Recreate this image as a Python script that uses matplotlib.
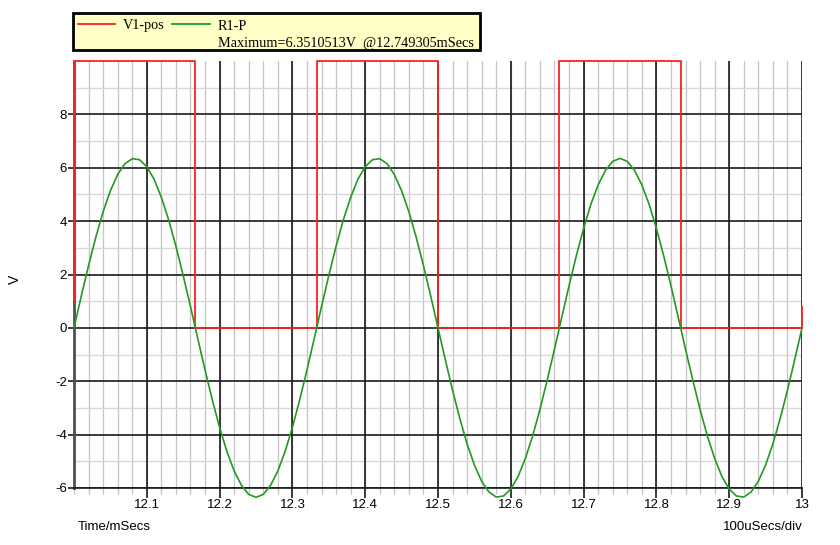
import matplotlib.pyplot as plt
from matplotlib.patches import Rectangle
from matplotlib.lines import Line2D

# V1-pos square wave (corner points)
v1_time = [12.0, 12.0, 12.1667, 12.1667, 12.3333, 12.3333, 12.5, 12.5,
           12.6667, 12.6667, 12.8333, 12.8333, 13.0, 13.0]
v1_volts = [1.0, 10, 10, 0, 0, 10, 10, 0, 0, 10, 10, 0, 0, 0.8]

# R1-P read every 10 us from 12.00 to 13.00 ms
r1_time = [12.0 + 0.01 * i for i in range(101)]
r1_volts = [
    0.00, 1.19, 2.34, 3.40, 4.35, 5.14, 5.75, 6.15, 6.34, 6.30,
    6.04, 5.57, 4.89, 4.05, 3.06, 1.96, 0.80, -0.40, -1.58, -2.70,
    -3.73, -4.63, -5.36, -5.90, -6.24, -6.35, -6.24, -5.90, -5.36, -4.63,
    -3.73, -2.70, -1.58, -0.40, 0.80, 1.96, 3.06, 4.05, 4.89, 5.57,
    6.04, 6.30, 6.34, 6.15, 5.75, 5.14, 4.35, 3.40, 2.34, 1.19,
    0.00, -1.19, -2.34, -3.40, -4.35, -5.14, -5.75, -6.15, -6.34, -6.30,
    -6.04, -5.57, -4.89, -4.05, -3.06, -1.96, -0.80, 0.40, 1.58, 2.70,
    3.73, 4.63, 5.36, 5.90, 6.24, 6.35, 6.24, 5.90, 5.36, 4.63,
    3.73, 2.70, 1.58, 0.40, -0.80, -1.96, -3.06, -4.05, -4.89, -5.57,
    -6.04, -6.30, -6.34, -6.15, -5.75, -5.14, -4.35, -3.40, -2.34, -1.19,
    0.00,
]

x_ticks = [12.1, 12.2, 12.3, 12.4, 12.5, 12.6, 12.7, 12.8, 12.9, 13.0]
x_labels = ['12.1', '12.2', '12.3', '12.4', '12.5', '12.6', '12.7', '12.8', '12.9', '13']
y_ticks = [-6, -4, -2, 0, 2, 4, 6, 8]
x_minor = [12.0 + 0.02 * i for i in range(51)]
y_minor = [-5, -3, -1, 1, 3, 5, 7, 9]

plt.rcParams['font.family'] = ['Liberation Sans', 'DejaVu Sans']
plt.rcParams['axes.unicode_minus'] = False

fig = plt.figure(figsize=(8.4, 5.45), dpi=100)
ax = fig.add_axes([74 / 840, 1 - 488 / 545, 728 / 840, 427 / 545])
ax.set_xlim(12.0, 13.0)
ax.set_ylim(-6, 10)

# grid: minor light grey, major black
for x in x_minor:
    ax.axvline(x, color='#c4c4c4', lw=0.9, zorder=1)
for y in y_minor:
    ax.axhline(y, color='#d8d8d8', lw=1.0, zorder=1)
for x in x_ticks:
    ax.axvline(x, color='#1a1a1a', lw=1.2, zorder=2)
for y in y_ticks:
    ax.axhline(y, color='#1a1a1a', lw=1.2, zorder=2)

ax.set_xticks(x_ticks)
ax.set_xticklabels(x_labels)
ax.set_xticks(x_minor, minor=True)
ax.set_yticks(y_ticks)
ax.set_yticks([], minor=True)
ax.tick_params(axis='x', which='major', length=7, width=1.2, color='#1a1a1a',
               labelsize=9.5, pad=1)
ax.tick_params(axis='x', which='minor', length=4, width=0.9, color='#c4c4c4')
ax.tick_params(axis='y', which='major', length=4, width=1.2, color='#1a1a1a',
               labelsize=9.5, pad=1)

for s in ['top', 'right']:
    ax.spines[s].set_visible(False)
ax.spines['left'].set_color('#505050')
ax.spines['left'].set_linewidth(2.0)
ax.spines['bottom'].set_color('#1a1a1a')
ax.spines['bottom'].set_linewidth(1.2)

ax.plot(v1_time, v1_volts, color='#ff2020', lw=1.3, zorder=4, clip_on=False)
ax.plot(r1_time, r1_volts, color='#229922', lw=1.2, zorder=5, clip_on=False)

fig.text(15 / 840, 1 - 279 / 545, 'V', fontsize=10, rotation=90, va='center', ha='center')
fig.text(78 / 840, 1 - 527 / 545, 'Time/mSecs', fontsize=9.5, va='center', ha='left')
fig.text(803 / 840, 1 - 527 / 545, '100uSecs/div', fontsize=9.5, va='center', ha='right')

# legend box
fig.add_artist(Rectangle((73 / 840, 1 - 50 / 545), 407 / 840, 37 / 545,
                         transform=fig.transFigure, facecolor='#ffffc6',
                         edgecolor='black', lw=2.0))
ly1 = 1 - 24 / 545
ly2 = 1 - 42 / 545
fig.add_artist(Line2D([78 / 840, 115 / 840], [ly1, ly1], color='#ff2020', lw=1.3))
fig.add_artist(Line2D([172 / 840, 210 / 840], [ly1, ly1], color='#229922', lw=1.3))
serif = ['Liberation Serif', 'DejaVu Serif']
fig.text(123 / 840, ly1 - 2 / 545, 'V1-pos', family=serif, fontsize=10.3, va='center')
fig.text(218 / 840, ly1 - 2 / 545, 'R1-P', family=serif, fontsize=10.3, va='center')
fig.text(218 / 840, ly2 - 2 / 545, 'Maximum=6.3510513V  @12.749305mSecs', family=serif,
         fontsize=10.3, va='center')

fig.savefig('out.png', dpi=100)
